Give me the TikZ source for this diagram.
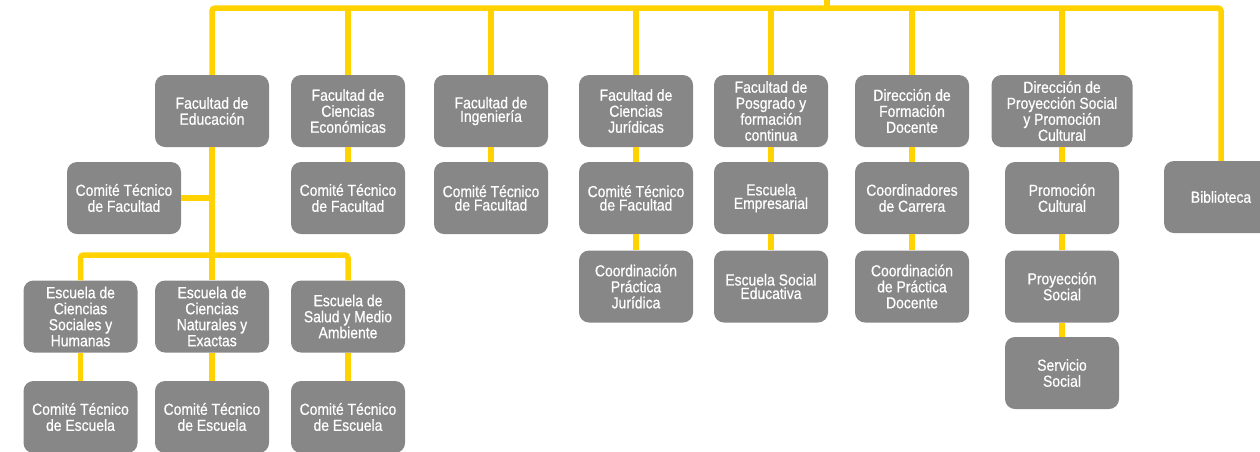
\documentclass[tikz,border=0pt]{standalone}
\usepackage{fontspec}
\setmainfont[FakeStretch=0.87, FakeBold=0.6]{Liberation Sans}
\definecolor{boxgray}{RGB}{135,135,135}
\definecolor{lineyellow}{RGB}{255,210,0}

\begin{document}
\begin{tikzpicture}[x=1pt, y=-1pt,
        unit/.style={rectangle, rounded corners=10pt, fill=boxgray, text=white,
            minimum width=114pt, minimum height=72pt, inner sep=1pt, align=center,
            font=\fontsize{16}{16}\selectfont},
        tight/.style={font=\fontsize{16}{13.5}\selectfont},
        link/.style={draw=lineyellow, line width=5.5pt, rounded corners=3pt}]
        \useasboundingbox (0,0) rectangle (1260,451);

        % Top row
        \node[unit] (edu) at (212, 111) {Facultad de\\Educación};
        \node[unit] (eco) at (348, 111) {Facultad de\\Ciencias\\Económicas};
        \node[unit, tight] (ing) at (491, 111) {Facultad de\\Ingeniería};
        \node[unit] (jur) at (636, 111) {Facultad de\\Ciencias\\Jurídicas};
        \node[unit] (pos) at (771, 111) {Facultad de\\Posgrado y\\formación\\continua};
        \node[unit] (dfd) at (912, 111) {Dirección de\\Formación\\Docente};
        \node[unit, minimum width=141pt] (dps) at (1062, 111) {Dirección de\\Proyección Social\\y Promoción\\Cultural};
        \node[unit] (bib) at (1221, 197) {Biblioteca};

        % Educacion
        \node[unit] (ctfedu) at (124, 198) {Comité Técnico\\de Facultad};
        \node[unit] (ecs) at (80.5, 316.5) {Escuela de\\Ciencias\\Sociales y\\Humanas};
        \node[unit] (ecn) at (212, 316.5) {Escuela de\\Ciencias\\Naturales y\\Exactas};
        \node[unit] (esa) at (348, 316.5) {Escuela de\\Salud y Medio\\Ambiente};
        \node[unit] (cteecs) at (80.5, 417) {Comité Técnico\\de Escuela};
        \node[unit] (cteecn) at (212, 417) {Comité Técnico\\de Escuela};
        \node[unit] (cteesa) at (348, 417) {Comité Técnico\\de Escuela};

        % Other columns
        \node[unit] (ctfeco) at (348, 198) {Comité Técnico\\de Facultad};
        \node[unit, tight] (ctfing) at (491, 198) {Comité Técnico\\de Facultad};
        \node[unit, tight] (ctfjur) at (636, 198) {Comité Técnico\\de Facultad};
        \node[unit] (cpj) at (636, 286.5) {Coordinación\\Práctica\\Jurídica};
        \node[unit, tight] (emp) at (771, 198) {Escuela\\Empresarial};
        \node[unit, tight] (ese) at (771, 286.5) {Escuela Social\\Educativa};
        \node[unit] (cdc) at (912, 198) {Coordinadores\\de Carrera};
        \node[unit] (cpd) at (912, 286.5) {Coordinación\\de Práctica\\Docente};
        \node[unit] (pcu) at (1062, 198) {Promoción\\Cultural};
        \node[unit] (pso) at (1062, 286.5) {Proyección\\Social};
        \node[unit] (sso) at (1062, 373) {Servicio\\Social};

        % Links
        \coordinate (bar) at (827, 8);
        \coordinate (root) at (827, -4);
        \coordinate (ebar) at (212, 255);
        \draw[link] (edu.north) |- (bar) -| (bib.north);
        \draw[link] (bar) -- (root);
        \foreach \n in {eco, ing, jur, pos, dfd, dps}
            \draw[link] (\n.north) -- (\n.north |- bar);

        \draw[link] (edu.south) -- (ebar);
        \draw[link] (ctfedu.east) -- (ctfedu.east -| edu.south);
        \draw[link] (ecs.north) |- (ebar) -| (esa.north);
        \draw[link] (ebar) -- (ecn.north);
        \draw[link] (ecs) -- (cteecs);
        \draw[link] (ecn) -- (cteecn);
        \draw[link] (esa) -- (cteesa);

        \draw[link] (eco) -- (ctfeco);
        \draw[link] (ing) -- (ctfing);
        \draw[link] (jur) -- (ctfjur);
        \draw[link] (ctfjur) -- (cpj);
        \draw[link] (pos) -- (emp);
        \draw[link] (emp) -- (ese);
        \draw[link] (dfd) -- (cdc);
        \draw[link] (cdc) -- (cpd);
        \draw[link] (dps) -- (pcu);
        \draw[link] (pcu) -- (pso);
        \draw[link] (pso) -- (sso);
    \end{tikzpicture}
\end{document}
